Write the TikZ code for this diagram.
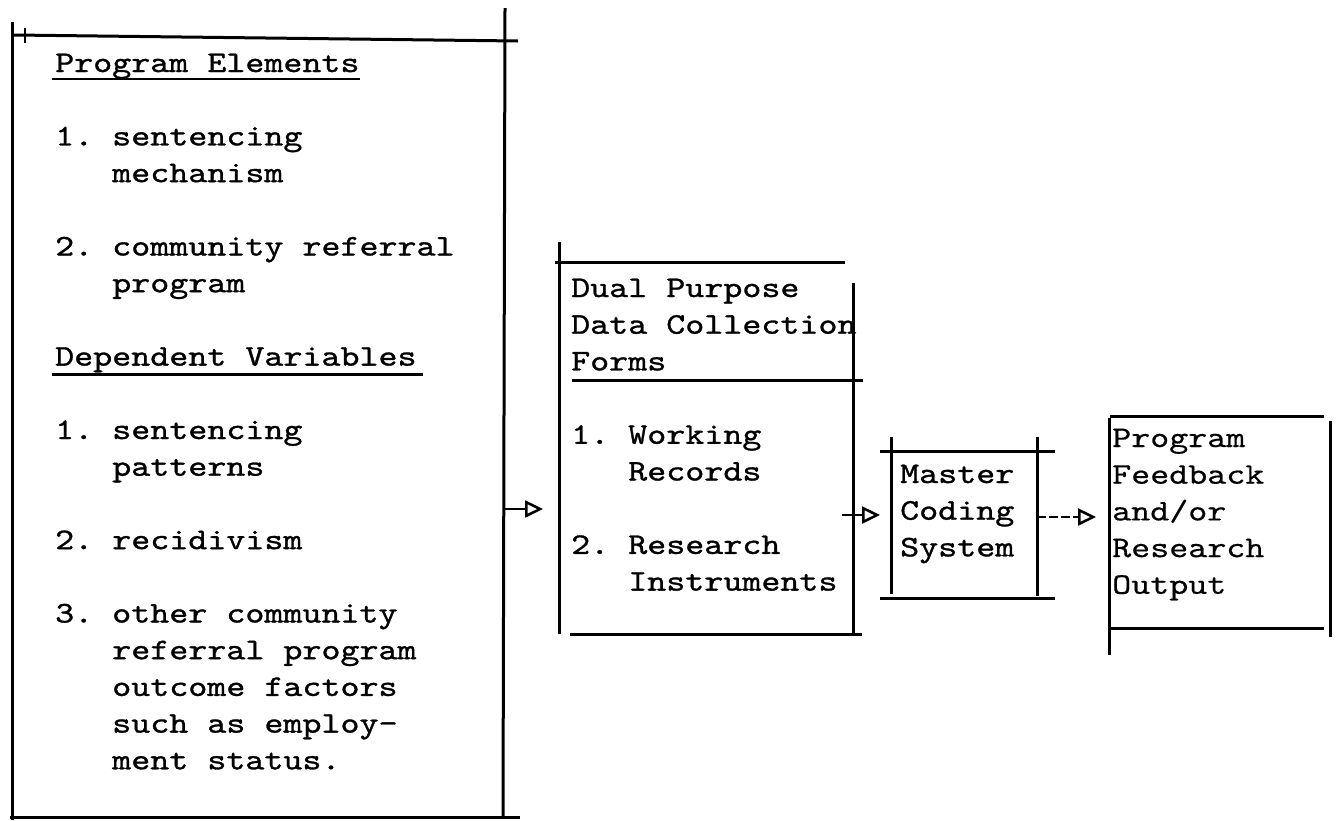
\documentclass[tikz,border=0pt]{standalone}
\usepackage{fontspec}
\usetikzlibrary{arrows.meta}
% typewriter faces: a heavier one for most boxes, a lighter one for the output box
\newfontfamily\typer{lmmono10-regular.otf}[FakeStretch=1.2076, FakeBold=1.0]
\newfontfamily\typerlight{lmmono10-regular.otf}[FakeStretch=1.2076, FakeBold=0.4]
\newcommand\ind{\hspace*{57.06pt}}
\newcommand\lines[1]{\begin{tabular}[t]{@{}l@{}}#1\end{tabular}}
\frenchspacing

\begin{document}
\begin{tikzpicture}[x=1pt,y=-1pt,
  rule/.style={line width=3pt, black},
  uline/.style={line width=2.5pt, black},
  txt/.style={inner sep=0pt, anchor=base west, align=left,
              font=\typer\fontsize{30}{36.7}\selectfont\frenchspacing},
  txtlight/.style={txt, font=\typerlight\fontsize{30}{36.7}\selectfont\frenchspacing},
  conn/.style={line width=2.5pt, -{Triangle[open, length=18pt, width=17pt]}},
  conndash/.style={conn, dash pattern=on 9pt off 3pt}]
\useasboundingbox (0,0) rectangle (1337,820);

% ---- box 1: program elements and dependent variables
\draw[rule] (12,22) -- (12,820);
\draw[rule] (14,35) -- (518,41);
\draw[line width=2pt] (25,28) -- (25,43);
\draw[rule] (505,8) -- (503,816);
\draw[rule] (10,817) -- (520,817);

\node[txt] (h1) at (55,72) {Program Elements};
\draw[uline] ([xshift=-3pt,yshift=-7pt]h1.base west) -- ([yshift=-7pt]h1.base east);
\node[txt] (pe) at (55,145.4) {\lines{1. sentencing\\ \ind mechanism\\ \\ 2. community referral\\ \ind program}};
\node[txt] (h2) at (55,365.6) {Dependent Variables};
\draw[uline] ([xshift=-3pt,yshift=-9pt]h2.base west) -- ([xshift=6pt,yshift=-9pt]h2.base east);
\node[txt] (dv) at (55,439) {\lines{1. sentencing\\ \ind patterns\\ \\ 2. recidivism\\ \\ 3. other community\\ \ind referral program\\ \ind outcome factors\\ \ind such as employ-\\ \ind ment status.}};

% ---- box 2: data collection forms
\draw[rule] (559,242) -- (559,634);
\draw[rule] (555,262) -- (845,262);
\draw[rule] (853,283) -- (853,634);
\draw[rule] (572,380) -- (863,380);
\draw[rule] (570,634) -- (862,634);
\node[txt] (dp) at (571,297) {\lines{Dual Purpose\\ Data Collection\\ Forms}};
\node[txt] (wr) at (571,443.8) {\lines{1. Working\\ \ind Records\\ \\ 2. Research\\ \ind Instruments}};

% ---- box 3: master coding system
\draw[rule] (891,437) -- (891,594);
\draw[rule] (880,451) -- (1055,451);
\draw[rule] (1037,437) -- (1037,596);
\draw[rule] (880,598) -- (1055,598);
\node[txt] (mc) at (900,483) {\lines{Master\\ Coding\\ System}};

% ---- box 4: output
\draw[rule] (1109,418) -- (1109,655);
\draw[rule] (1110,416) -- (1324,416);
\draw[rule] (1330,421) -- (1330,637);
\draw[rule] (1110,628) -- (1324,628);
\node[txtlight] (out) at (1112,447) {\lines{Program\\ Feedback\\ and/or\\ Research\\ Output}};

% ---- connectors
\coordinate (b1out) at (503,509);
\coordinate (b2tip) at (543,509);
\coordinate (b2out) at (842,515);
\coordinate (b3in)  at (880,515);
\coordinate (b3out) at (1037,517);
\coordinate (b4tip) at (1096,517);
\draw[conn] (b1out) -- (b2tip);
\draw[conn] (b2out) -- (b3in);
\draw[conndash] (b3out) -- (b4tip);
\end{tikzpicture}
\end{document}
